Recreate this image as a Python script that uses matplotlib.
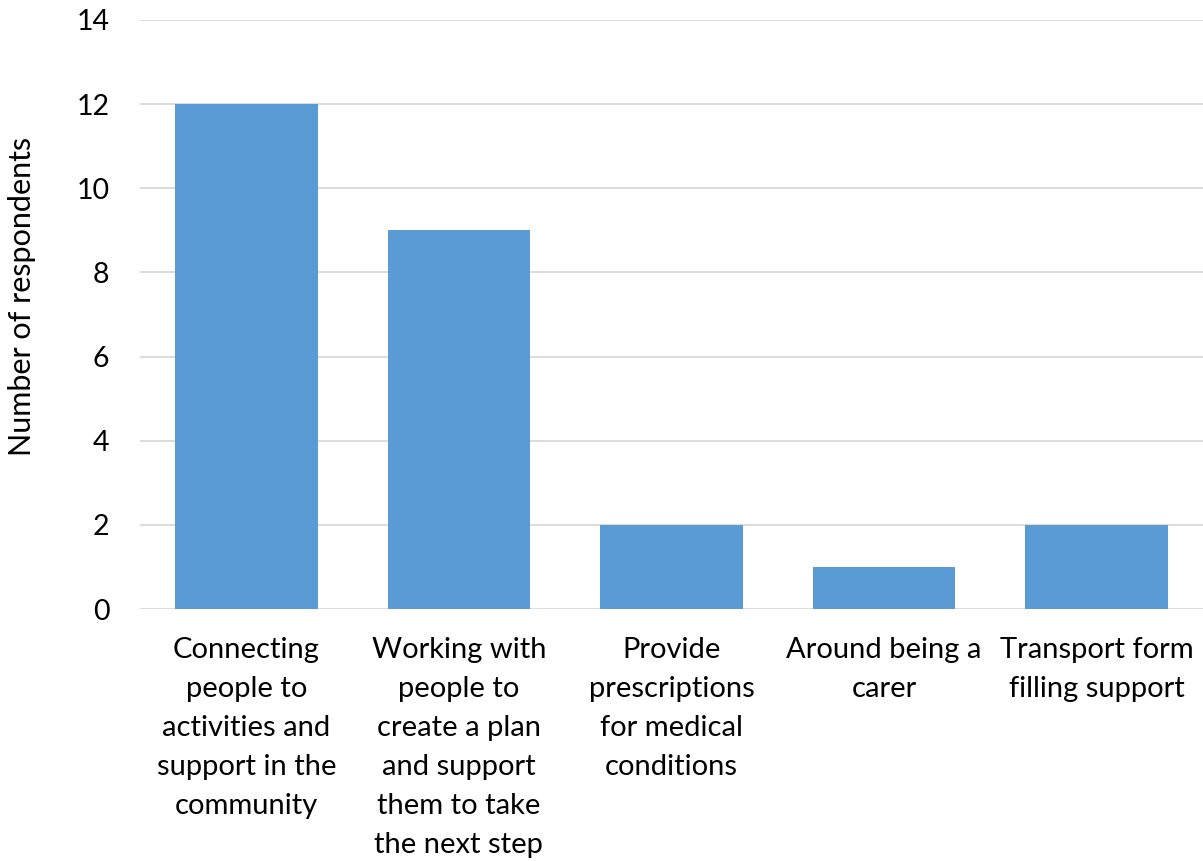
import matplotlib
matplotlib.use("Agg")
import matplotlib.pyplot as plt

categories = [
    "Connecting\npeople to\nactivities and\nsupport in the\ncommunity",
    "Working with\npeople to\ncreate a plan\nand support\nthem to take\nthe next step",
    "Provide\nprescriptions\nfor medical\nconditions",
    "Around being a\ncarer",
    "Transport form\nfilling support",
]
values = [12, 9, 2, 1, 2]
y_ticks = [0, 2, 4, 6, 8, 10, 12, 14]
y_label = "Number of respondents"

plt.rcParams['font.family'] = ['Lato', 'DejaVu Sans']

fig = plt.figure(figsize=(12.03, 8.61), dpi=100)
ax = fig.add_axes([140/1203, (861-609)/861, (1203-140)/1203, (609-20)/861])

x = range(len(values))
ax.bar(x, values, width=0.67, color="#5B9BD5", zorder=3)
ax.set_xlim(-0.5, len(values) - 0.5)
ax.set_ylim(0, 14)
ax.set_yticks(y_ticks)
ax.set_yticklabels([str(t) for t in y_ticks], fontsize=20.5)
ax.set_xticks(list(x))
ax.set_xticklabels(categories, fontsize=21, linespacing=1.62, va="top")
ax.tick_params(axis='both', length=0, colors="#000000")
ax.tick_params(axis='x', pad=20)
ax.tick_params(axis='y', pad=22)
ax.grid(axis='y', color="#D9D9D9", linewidth=1.3, zorder=0)
for s in ax.spines.values():
    s.set_visible(False)
ax.set_ylabel(y_label, fontsize=22, va="center")
ax.yaxis.set_label_coords(-0.111, 0.53)

fig.savefig("out.png", dpi=100)
